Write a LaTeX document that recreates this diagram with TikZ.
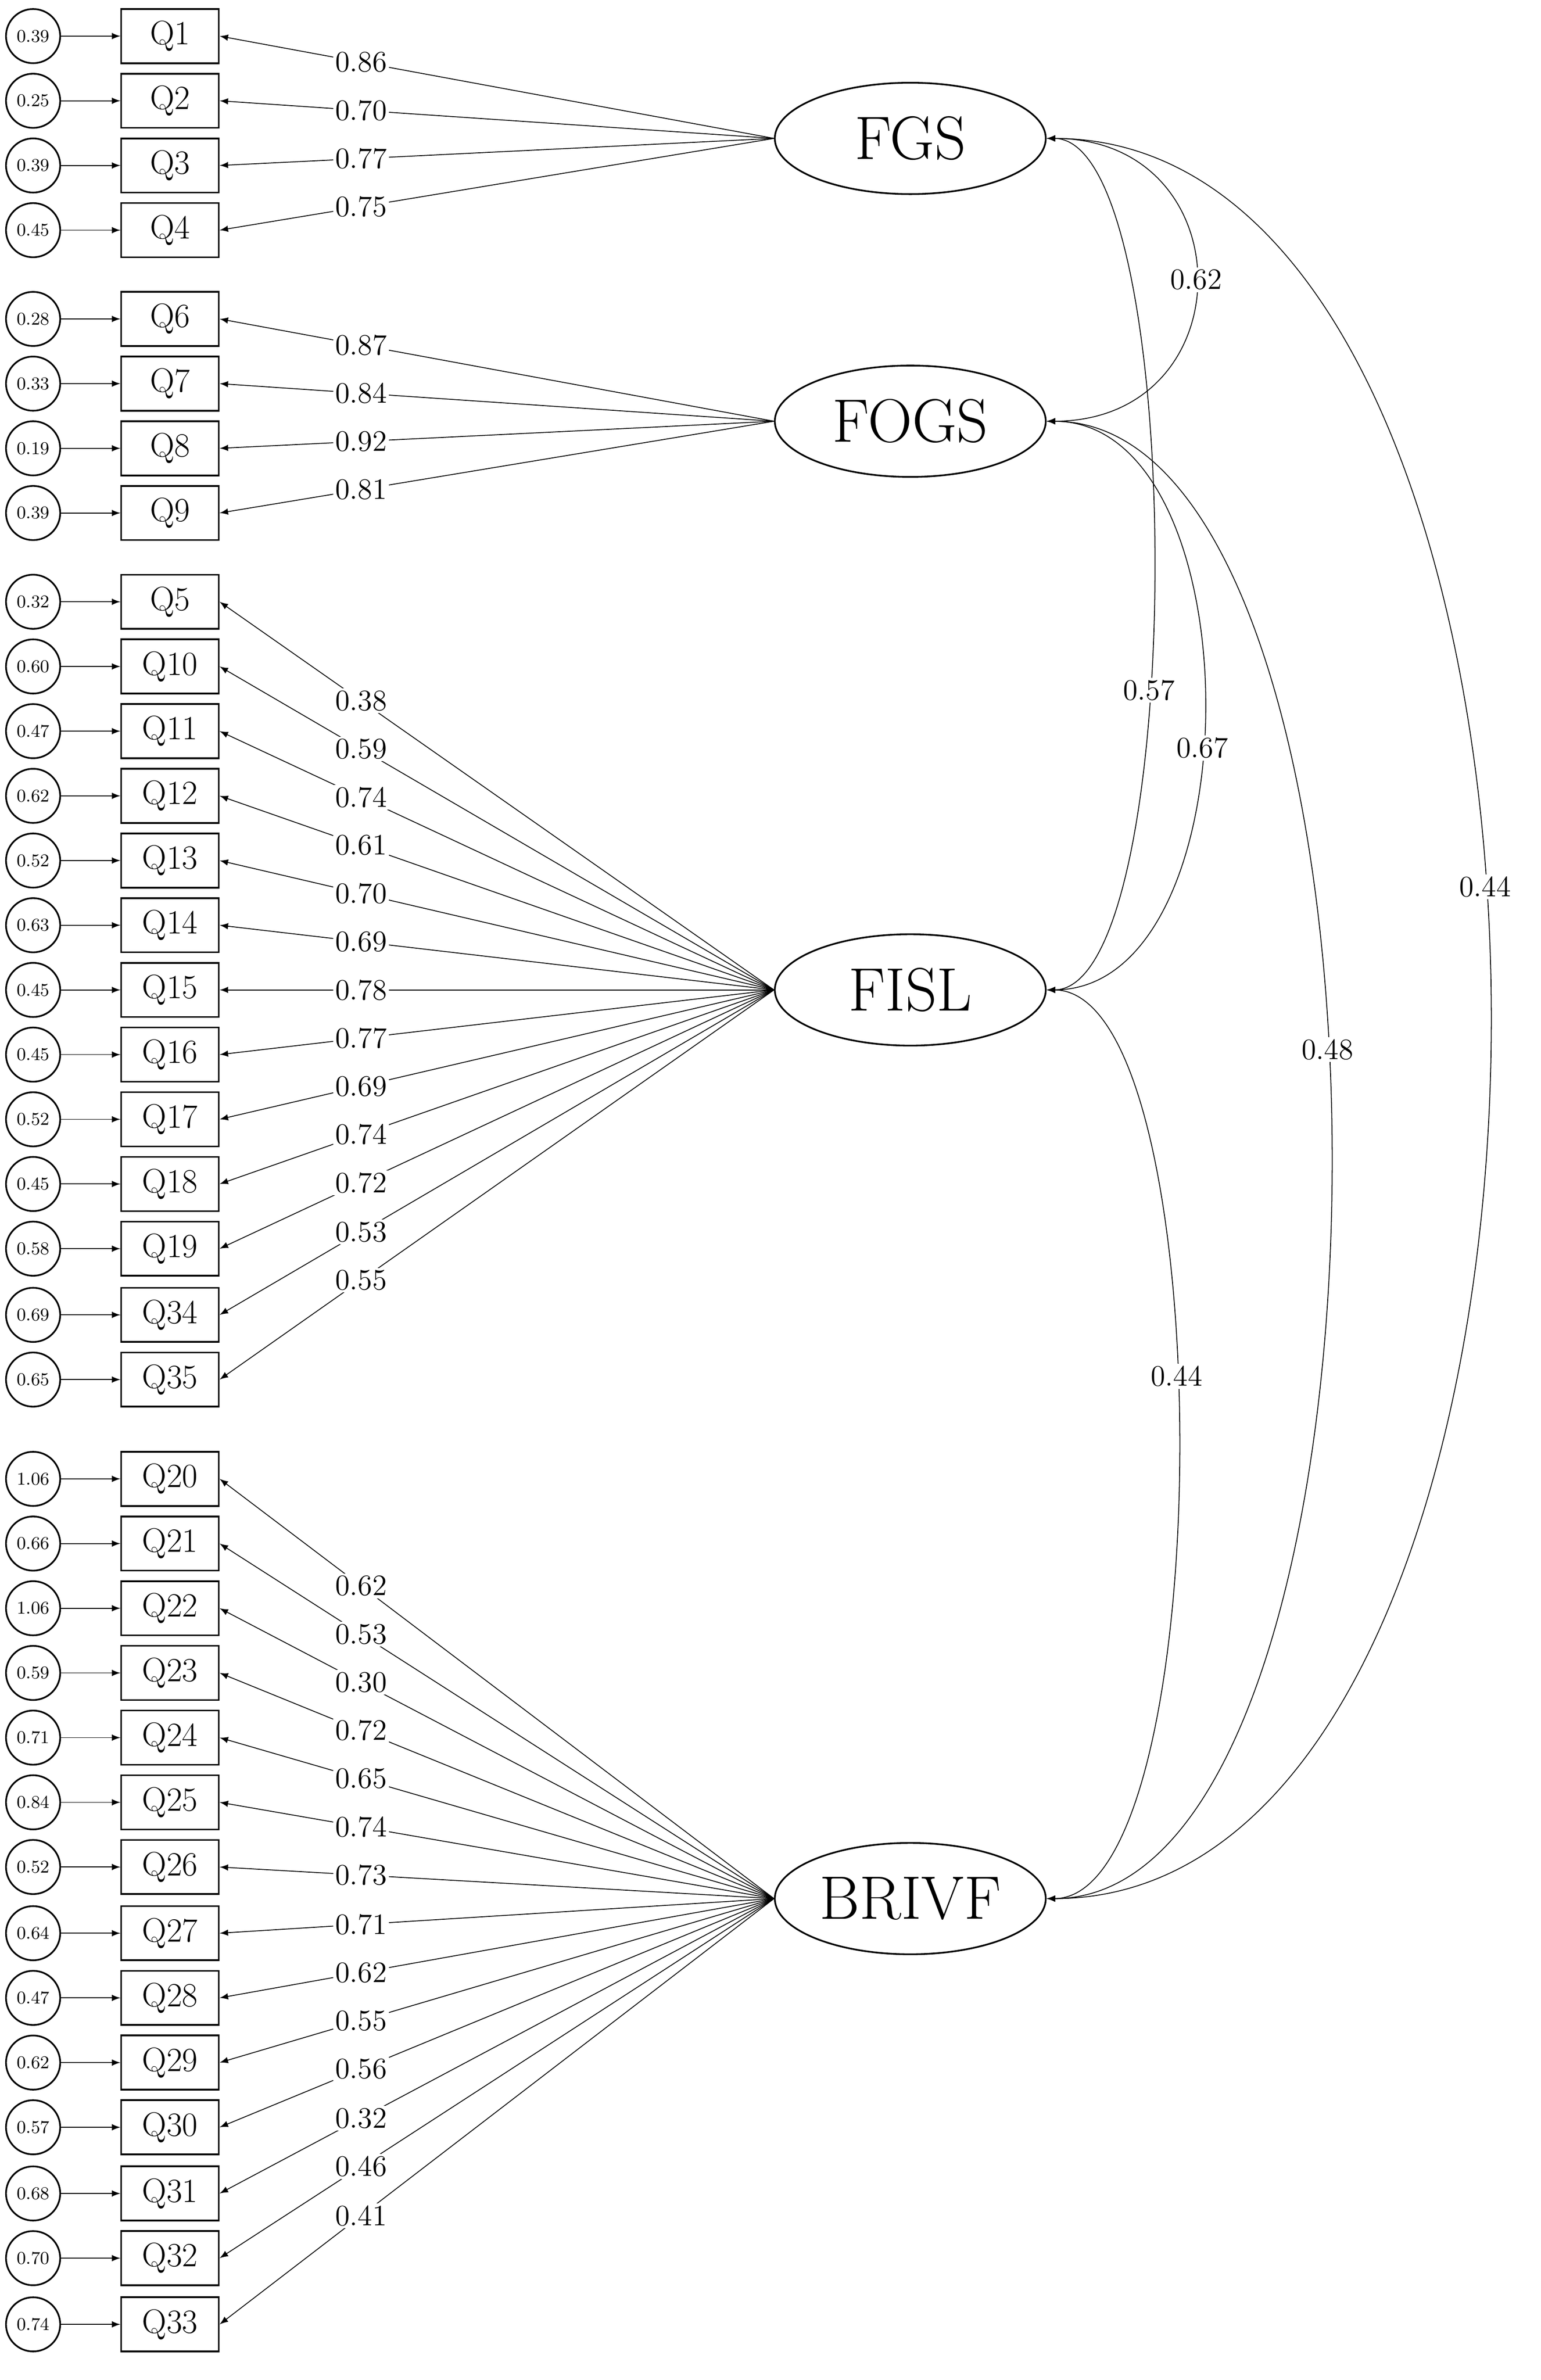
\documentclass[tikz,border=0pt]{standalone}
\usepackage{tikz}
\usetikzlibrary{arrows, shapes, calc}

\tikzset{
	item/.style={rectangle, draw=black, thick, minimum width=1.62cm, minimum height=0.9cm, inner sep=0pt, font=\fontsize{16}{16}\selectfont},
	err/.style={circle, draw=black, thick, minimum size=0.9cm, inner sep=0pt, font=\fontsize{8.5}{8.5}\selectfont},
	latent/.style={ellipse, draw=black, thick, minimum width=4.5cm, minimum height=1.85cm, inner sep=0pt, font=\fontsize{29}{29}\selectfont},
	load/.style={fill=white, inner sep=1pt, font=\fontsize{14}{14}\selectfont},
}

\begin{document}
\begin{tikzpicture}[>=latex, x=0.025cm, y=-0.025cm]
		\useasboundingbox (0,0) rectangle (1024,1582);

		\node[latent](FGS) at (605,92) {FGS};
		\node[latent](FOGS) at (605,280) {FOGS};
		\node[latent](FISL) at (605,658) {FISL};
		\node[latent](BRIVF) at (605,1262) {BRIVF};

		% indicators: number / y / error variance / loading / factor
		\foreach \i/\y/\e/\l/\f in {1/24/0.39/0.86/FGS, 2/67/0.25/0.70/FGS, 3/110/0.39/0.77/FGS, 4/153/0.45/0.75/FGS,
			6/212/0.28/0.87/FOGS, 7/255/0.33/0.84/FOGS, 8/298/0.19/0.92/FOGS, 9/341/0.39/0.81/FOGS,
			5/400/0.32/0.38/FISL, 10/443/0.60/0.59/FISL, 11/486/0.47/0.74/FISL, 12/529/0.62/0.61/FISL,
			13/572/0.52/0.70/FISL, 14/615/0.63/0.69/FISL, 15/658/0.45/0.78/FISL, 16/701/0.45/0.77/FISL,
			17/744/0.52/0.69/FISL, 18/787/0.45/0.74/FISL, 19/830/0.58/0.72/FISL, 34/874/0.69/0.53/FISL,
			35/917/0.65/0.55/FISL,
			20/983/1.06/0.62/BRIVF, 21/1026/0.66/0.53/BRIVF, 22/1069/1.06/0.30/BRIVF, 23/1112/0.59/0.72/BRIVF,
			24/1155/0.71/0.65/BRIVF, 25/1198/0.84/0.74/BRIVF, 26/1241/0.52/0.73/BRIVF, 27/1285/0.64/0.71/BRIVF,
			28/1328/0.47/0.62/BRIVF, 29/1371/0.62/0.55/BRIVF, 30/1414/0.57/0.56/BRIVF, 31/1458/0.68/0.32/BRIVF,
			32/1501/0.70/0.46/BRIVF, 33/1545/0.74/0.41/BRIVF}{
			\node[item](q\i) at (113,\y) {Q\i};
			\node[err](e\i) at (22,\y) {\e};
			\draw[->](e\i) -- (q\i);
			\draw[->](\f.west) -- node[load, pos=0.745]{\l} (q\i.east);
		}

		% factor covariances
		\draw[<->](FGS.east) .. controls (828,92) and (828,280) .. node[load, pos=0.5]{0.62} (FOGS.east);
		\draw[<->](FGS.east) .. controls (790,92) and (790,658) .. node[load, pos=0.6]{0.57} (FISL.east);
		\draw[<->](FOGS.east) .. controls (835,280) and (835,658) .. node[load, pos=0.55]{0.67} (FISL.east);
		\draw[<->](FISL.east) .. controls (812,658) and (812,1262) .. node[load, pos=0.45]{0.44} (BRIVF.east);
		\draw[<->](FOGS.east) .. controls (947,280) and (947,1262) .. node[load, pos=0.45]{0.48} (BRIVF.east);
		\draw[<->](FGS.east) .. controls (1088,92) and (1088,1262) .. node[load, pos=0.45]{0.44} (BRIVF.east);
	\end{tikzpicture}
\end{document}
